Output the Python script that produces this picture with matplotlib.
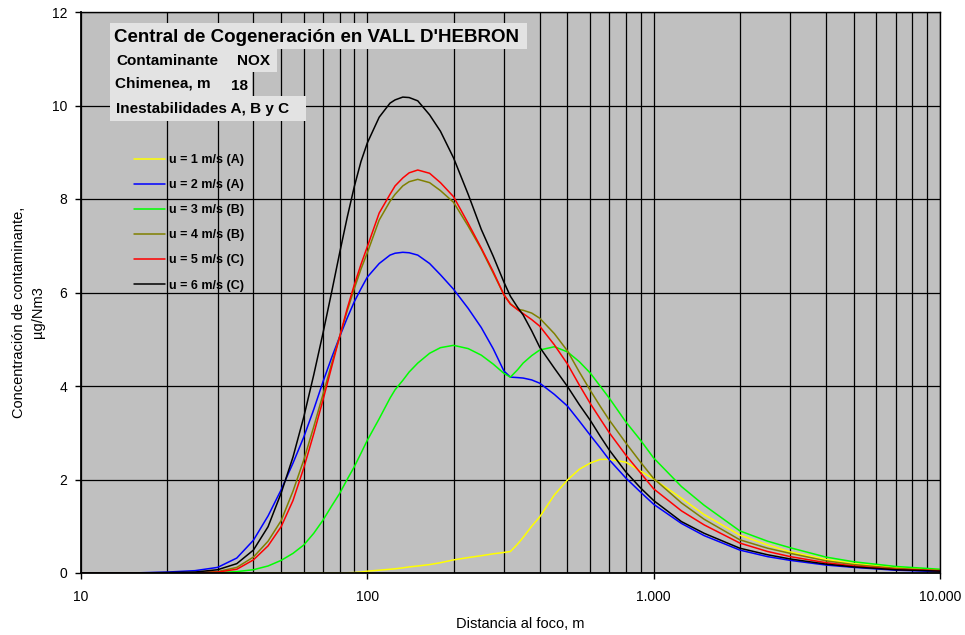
import matplotlib
matplotlib.use("Agg")
import matplotlib.pyplot as plt
from matplotlib.ticker import FixedLocator, FuncFormatter, NullFormatter
from matplotlib.patches import Rectangle

plt.rcParams['font.family'] = ['Liberation Sans', 'DejaVu Sans']

# ---------------- data ----------------
x_dist = [10, 15, 20, 25, 30, 35, 40, 45, 50, 55, 60, 65, 70, 75, 80, 85, 90, 95, 100,
          110, 120, 125, 133, 140, 150, 165, 180, 200, 225, 250, 275, 300, 316, 335, 350, 375, 400,
          450, 500, 550, 600, 650, 700, 800, 900, 1000, 1250, 1500, 2000, 2500, 3000,
          4000, 5000, 7000, 10000]

u1_A = [0, 0, 0, 0, 0, 0, 0, 0, 0, 0, 0, 0, 0, 0, 0.0, 0.005, 0.01, 0.02, 0.04,
        0.06, 0.08, 0.09, 0.11, 0.13, 0.15, 0.18, 0.22, 0.28, 0.33, 0.37, 0.41, 0.44, 0.46, 0.62, 0.76, 1.0, 1.2,
        1.67, 1.99, 2.22, 2.35, 2.43, 2.43, 2.37, 2.18, 2.01, 1.6, 1.25, 0.81, 0.6, 0.45,
        0.29, 0.20, 0.12, 0.07]
u2_A = [0, 0, 0.02, 0.05, 0.12, 0.32, 0.7, 1.22, 1.78, 2.35, 2.91, 3.5, 4.09, 4.6, 5.05, 5.45, 5.8, 6.08, 6.33,
        6.62, 6.8, 6.84, 6.86, 6.85, 6.8, 6.62, 6.38, 6.07, 5.66, 5.25, 4.8, 4.32, 4.19, 4.18, 4.17, 4.13, 4.06,
        3.82, 3.57, 3.25, 2.95, 2.68, 2.42, 2.03, 1.73, 1.47, 1.06, 0.8, 0.49, 0.35, 0.27,
        0.17, 0.12, 0.06, 0.03]
u3_B = [0, 0, 0, 0, 0.01, 0.03, 0.07, 0.15, 0.27, 0.42, 0.6, 0.85, 1.13, 1.43, 1.7, 2.0, 2.27, 2.56, 2.84,
        3.3, 3.74, 3.92, 4.12, 4.3, 4.49, 4.7, 4.82, 4.87, 4.8, 4.66, 4.47, 4.27, 4.19, 4.35, 4.49, 4.65, 4.77,
        4.84, 4.73, 4.52, 4.28, 4.0, 3.74, 3.23, 2.84, 2.46, 1.85, 1.45, 0.9, 0.68, 0.54,
        0.34, 0.24, 0.14, 0.08]
u4_B = [0, 0, 0, 0.01, 0.03, 0.12, 0.34, 0.68, 1.12, 1.75, 2.42, 3.13, 3.82, 4.47, 5.05, 5.6, 6.08, 6.5, 6.85,
        7.55, 7.95, 8.1, 8.28, 8.37, 8.42, 8.35, 8.18, 7.93, 7.42, 6.93, 6.42, 5.95, 5.76, 5.64, 5.62, 5.56, 5.45,
        5.12, 4.75, 4.3, 3.91, 3.57, 3.27, 2.78, 2.37, 2.02, 1.5, 1.15, 0.71, 0.53, 0.42,
        0.26, 0.18, 0.10, 0.05]
u5_C = [0, 0, 0, 0, 0.02, 0.08, 0.28, 0.58, 0.99, 1.55, 2.25, 2.98, 3.7, 4.4, 5.05, 5.65, 6.16, 6.6, 6.98,
        7.7, 8.1, 8.28, 8.45, 8.56, 8.62, 8.55, 8.35, 8.05, 7.48, 6.95, 6.45, 5.95, 5.75, 5.63, 5.55, 5.42, 5.28,
        4.88, 4.47, 4.02, 3.63, 3.3, 3.0, 2.52, 2.14, 1.8, 1.33, 1.03, 0.64, 0.46, 0.35,
        0.22, 0.15, 0.08, 0.05]
u6_C = [0, 0, 0.01, 0.02, 0.07, 0.2, 0.49, 0.99, 1.71, 2.48, 3.34, 4.24, 5.13, 6.0, 6.84, 7.6, 8.26, 8.8, 9.2,
        9.75, 10.05, 10.12, 10.18, 10.17, 10.1, 9.8, 9.45, 8.88, 8.1, 7.35, 6.78, 6.22, 5.92, 5.68, 5.52, 5.18, 4.83,
        4.38, 3.99, 3.6, 3.27, 2.93, 2.63, 2.16, 1.82, 1.55, 1.1, 0.85, 0.53, 0.39, 0.30,
        0.19, 0.13, 0.07, 0.04]

series_labels = ["u = 1 m/s (A)", "u = 2 m/s (A)", "u = 3 m/s (B)",
                 "u = 4 m/s (B)", "u = 5 m/s (C)", "u = 6 m/s (C)"]
series_values = [u1_A, u2_A, u3_B, u4_B, u5_C, u6_C]
series_colors = ["#FFFF00", "#0000FF", "#00FF00", "#808000", "#FF0000", "#000000"]

y_ticks = [0, 2, 4, 6, 8, 10, 12]
x_major = [10, 100, 1000, 10000]
x_major_labels = ["10", "100", "1.000", "10.000"]

# ---------------- figure ----------------
W, H = 965, 635
fig = plt.figure(figsize=(W / 100, H / 100), dpi=100)
L, R, T, B = 81, 940, 12, 573
ax = fig.add_axes([L / W, 1 - B / H, (R - L) / W, (B - T) / H])
ax.set_facecolor("#C0C0C0")

ax.set_xscale("log")
ax.set_xlim(10, 10000)
ax.set_ylim(0, 12)

minor = [m * 10 ** d for d in range(1, 4) for m in range(2, 10)]
ax.xaxis.set_major_locator(FixedLocator(x_major))
ax.xaxis.set_minor_locator(FixedLocator(minor))
ax.xaxis.set_major_formatter(FuncFormatter(
    lambda v, p: x_major_labels[x_major.index(round(v))] if round(v) in x_major else ""))
ax.xaxis.set_minor_formatter(NullFormatter())
ax.set_yticks(y_ticks)

ax.grid(True, which="both", axis="x", color="#000000", linewidth=0.9)
ax.grid(True, which="major", axis="y", color="#000000", linewidth=0.9)
ax.set_axisbelow(True)

ax.tick_params(axis="both", which="major", direction="out", length=4, width=1,
               labelsize=10, colors="black")
ax.tick_params(axis="x", which="minor", length=0)
ax.tick_params(axis="x", pad=8)
ax.tick_params(axis="y", pad=6)
for s in ax.spines.values():
    s.set_color("black")
    s.set_linewidth(1.0)
ax.spines["left"].set_linewidth(1.3)
ax.spines["bottom"].set_linewidth(1.3)

for vals, lab, col in zip(series_values, series_labels, series_colors):
    ax.plot(x_dist, vals, color=col, linewidth=1.1, label=lab,
            solid_joinstyle="round", solid_capstyle="round")

ax.set_xlabel("Distancia al foco, m", fontsize=10.5)
ax.xaxis.set_label_coords((520 - L) / (R - L), (B - 624) / (B - T))
ax.xaxis.label.set_va("center")
ax.set_ylabel("Concentración de contaminante,\nµg/Nm3", fontsize=10.5, linespacing=1.45)
ax.yaxis.set_label_coords((28.5 - L) / (R - L), (B - 312) / (B - T))
ax.yaxis.label.set_va("center")

leg = ax.legend(loc="upper left", bbox_to_anchor=((134 - L) / (R - L), (B - 154) / (B - T)),
                frameon=False, prop={"weight": "bold", "size": 9}, borderpad=0,
                borderaxespad=0, handlelength=2.5, handletextpad=0.3, labelspacing=1.05)

# ---------------- text boxes ----------------
box_color = "#E3E3E3"
def box(x0, y0, x1, y1):
    fig.patches.append(Rectangle((x0 / W, 1 - y1 / H), (x1 - x0) / W, (y1 - y0) / H,
                                 transform=fig.transFigure, facecolor=box_color,
                                 edgecolor="none", zorder=5))

box(110, 23, 527, 49)
box(110, 49, 277, 72)
box(110, 72, 252, 96)
box(110, 96, 306, 121)

def txt(x, y, s, size):
    fig.text(x / W, 1 - y / H, s, fontsize=size, fontweight="bold", ha="left",
             va="center", zorder=6, color="black")

txt(114, 37, "Central de Cogeneración en VALL D'HEBRON", 13.5)
txt(116, 61, "Contaminante", 11)
txt(237, 61, "NOX", 11)
txt(115, 84, "Chimenea, m", 11)
txt(231, 86, "18", 11)
txt(116, 109, "Inestabilidades A, B y C", 11)

fig.savefig("out.png", dpi=100, facecolor="white")
